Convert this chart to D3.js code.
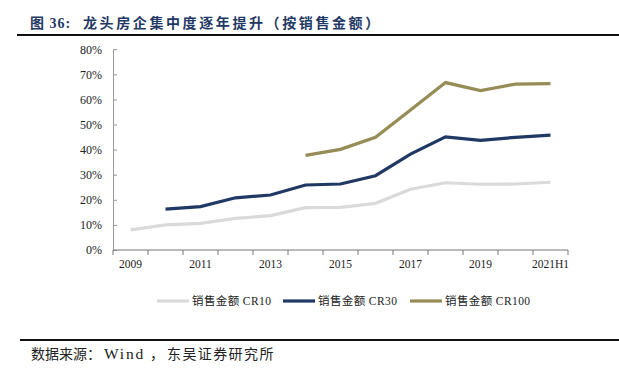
<!DOCTYPE html>
<html><head><meta charset="utf-8">
<script src="https://cdn.jsdelivr.net/npm/d3@7"></script>
<style>
body{margin:0;background:#fff;}
svg{display:block;}
</style></head>
<body>
<svg id="c" width="619" height="371"></svg>
<script>
const categories = ["2009","2010","2011","2012","2013","2014","2015","2016","2017","2018","2019","2020","2021H1"];
const tickLabels = ["2009","2011","2013","2015","2017","2019","2021H1"];
const yTicks = [0,10,20,30,40,50,60,70,80];
const cr10 = [8.0,10.0,10.6,12.6,13.7,16.9,17.0,18.6,24.2,26.8,26.2,26.3,27.0];
const cr30 = [null,16.3,17.3,20.8,21.9,25.9,26.3,29.6,38.2,45.1,43.7,44.9,45.8];
const cr100 = [null,null,null,null,null,37.7,40.1,44.9,55.8,66.7,63.5,66.1,66.3];
const seriesNames = ["销售金额 CR10","销售金额 CR30","销售金额 CR100"];
const colors = ["#dadada","#1f3864","#968c55"];

const svg = d3.select("#c");
const serif = "'Liberation Serif','Times New Roman','Noto Sans CJK SC',serif";
const cjk = "'Liberation Serif','Noto Sans CJK SC',serif";

// Title
const t = svg.append("text").attr("y",28)
  .attr("font-family",cjk).attr("font-weight","bold").attr("font-size",14)
  .attr("fill","#1f3864");
t.append("tspan").attr("x",30).attr("letter-spacing",1).text("图 36:");
t.append("tspan").attr("x",83).attr("letter-spacing",2.6).text("龙头房企集中度逐年提升（按销售金额）");
svg.append("line").attr("x1",17).attr("x2",619).attr("y1",35).attr("y2",35)
  .attr("stroke","#111").attr("stroke-width",2);

const x = d3.scaleBand().domain(categories).range([113,568]);
const y = d3.scaleLinear().domain([0,80]).range([250,49.2]);

// Y axis
const yAxis = d3.axisLeft(y).tickValues(yTicks).tickFormat(d=>d+"%").tickSizeInner(-4).tickSizeOuter(0).tickPadding(11);
const gy = svg.append("g").attr("transform","translate(113,0)").call(yAxis);
gy.select(".domain").attr("stroke","#999");
gy.selectAll(".tick line").attr("stroke","#999");
gy.selectAll("text").attr("font-family",serif).attr("font-size",12).attr("fill","#222");

// X axis
const xAxis = d3.axisBottom(x).tickValues(tickLabels).tickSize(0).tickPadding(10);
const gx = svg.append("g").attr("transform","translate(0,250)").call(xAxis);
gx.select(".domain").remove();
gx.selectAll(".tick line").remove();
gx.selectAll("text").attr("font-family",serif).attr("font-size",11.5).attr("fill","#222");
// x axis line and boundary ticks
svg.append("line").attr("x1",113).attr("x2",568).attr("y1",250).attr("y2",250).attr("stroke","#777");
svg.append("g").selectAll("line").data(categories.concat(["__end"])).join("line")
  .attr("x1",(d,i)=> i<categories.length ? x(d) : x(categories[categories.length-1])+x.bandwidth())
  .attr("x2",(d,i)=> i<categories.length ? x(d) : x(categories[categories.length-1])+x.bandwidth())
  .attr("y1",250).attr("y2",255).attr("stroke","#777");

// Lines
const line = d3.line().defined(d=>d.v!=null)
  .x(d=>x(d.c)+x.bandwidth()/2).y(d=>y(d.v));
[cr10,cr30,cr100].forEach((arr,i)=>{
  svg.append("path").datum(arr.map((v,j)=>({c:categories[j],v})))
    .attr("d",line).attr("fill","none").attr("stroke",colors[i])
    .attr("stroke-width",3.2).attr("stroke-linejoin","miter");
});

// Legend
const lx = [157,283,410];
seriesNames.forEach((n,i)=>{
  svg.append("line").attr("x1",lx[i]).attr("x2",lx[i]+32).attr("y1",301).attr("y2",301)
    .attr("stroke",colors[i]).attr("stroke-width",3.2);
  svg.append("text").attr("x",lx[i]+35).attr("y",305).attr("font-family",cjk)
    .attr("font-size",11.5).attr("letter-spacing",0.4).attr("fill","#222").text(n);
});

// Source
svg.append("line").attr("x1",20).attr("x2",619).attr("y1",340).attr("y2",340)
  .attr("stroke","#111").attr("stroke-width",1.8);
const s = svg.append("text").attr("y",359).attr("font-family",cjk)
  .attr("font-size",14).attr("fill","#222");
s.append("tspan").attr("x",31).text("数据来源：");
s.append("tspan").attr("x",104).attr("font-size",15.5).attr("letter-spacing",1.8).text("Wind");
s.append("tspan").attr("x",150).text("，");
s.append("tspan").attr("x",167).attr("letter-spacing",1.4).text("东吴证券研究所");
</script>
</body></html>
